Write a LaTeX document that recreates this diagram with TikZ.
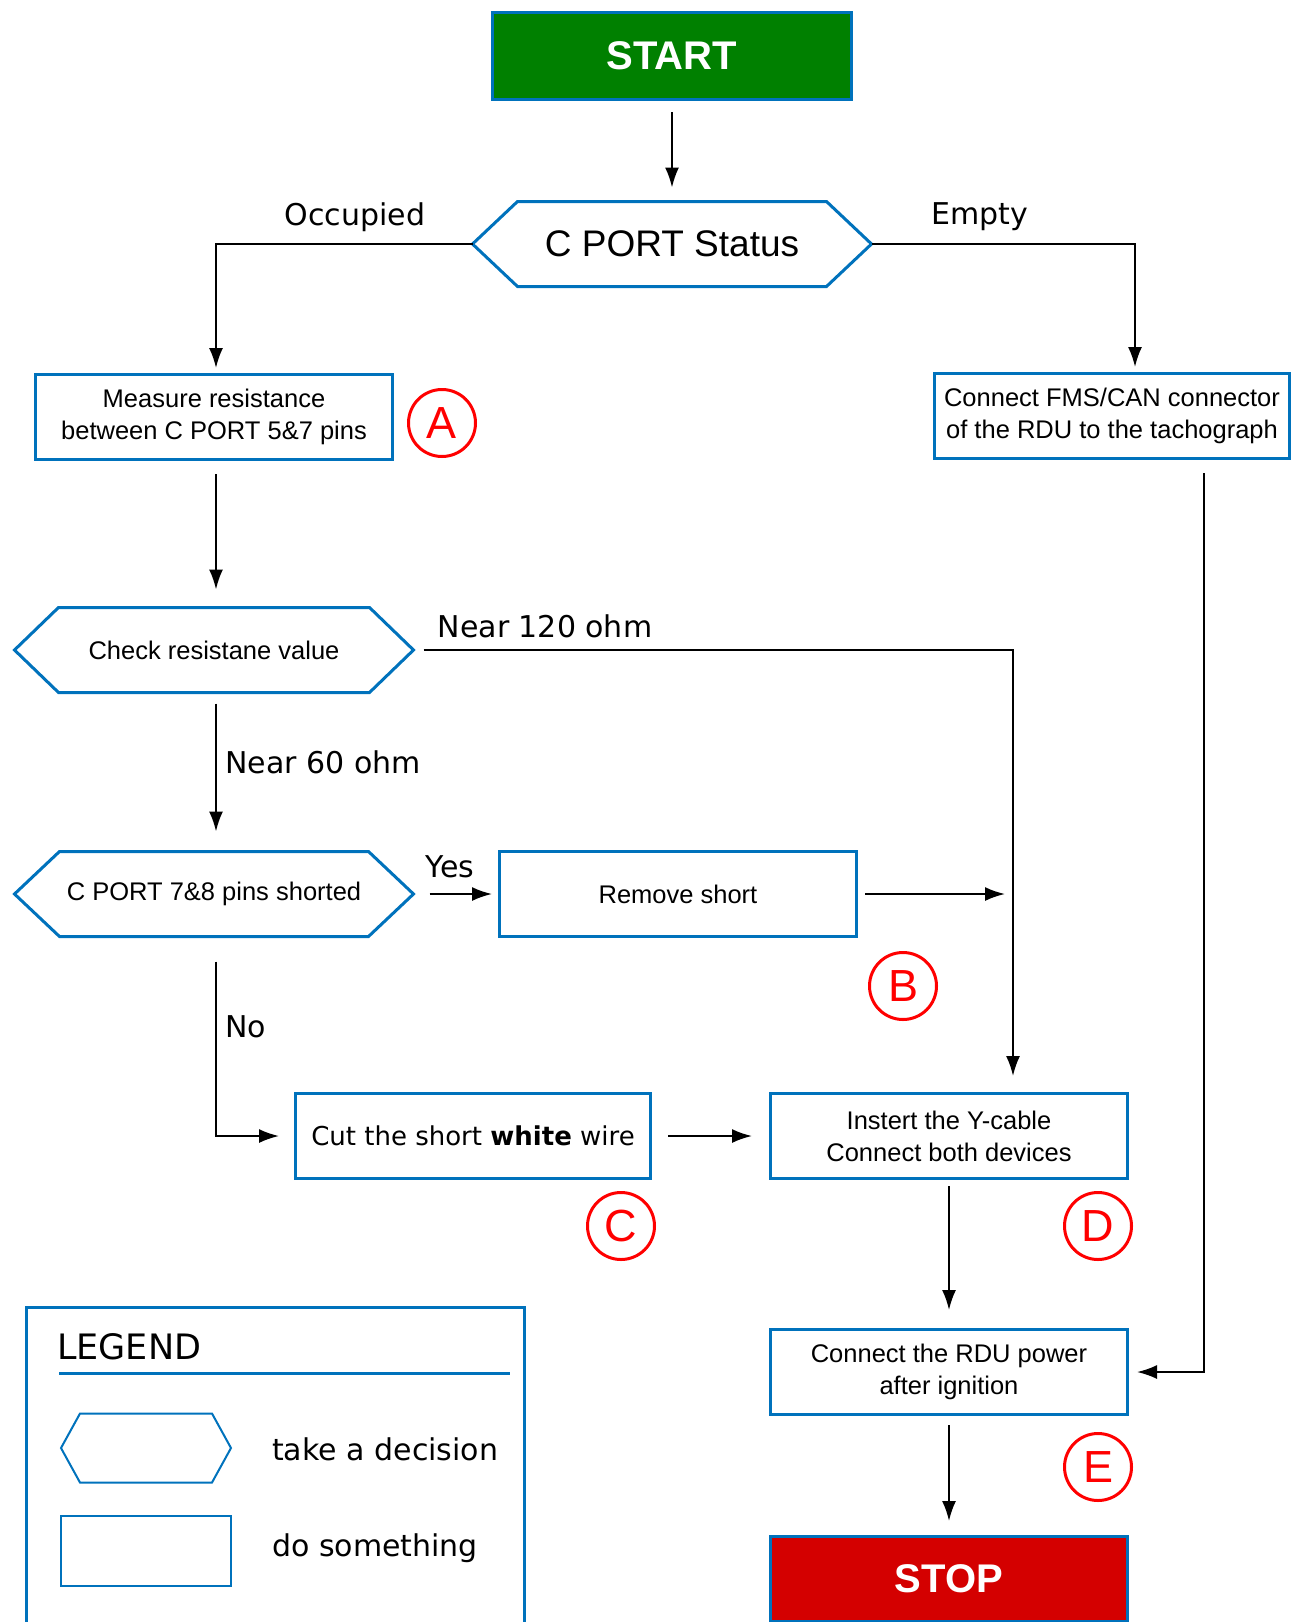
\documentclass[tikz,border=0pt]{standalone}
\usepackage{fontspec}
\setmainfont{Liberation Sans}
\newfontfamily\tagfont{DejaVu Sans}
\usetikzlibrary{arrows.meta}

\definecolor{portblue}{RGB}{0,114,188}
\definecolor{startgreen}{RGB}{0,128,0}
\definecolor{stopred}{RGB}{212,0,0}

% hexagon outline round a (borderless) node: [line width]{node}{inset}
\newcommand\hexframe[3][3pt]{%
  \draw[portblue, line width=#1, line join=miter]
    (#2.west) -- ([xshift=#3]#2.north west) -- ([xshift=-#3]#2.north east)
    -- (#2.east) -- ([xshift=-#3]#2.south east) -- ([xshift=#3]#2.south west) -- cycle;}

\tikzset{
  stepbox/.style={draw=portblue, line width=3pt, fill=white, minimum width=357pt,
    minimum height=85pt, align=center, font=\fontsize{25.5}{32}\selectfont},
  terminal/.style={stepbox, text=white, font=\fontsize{40}{48}\selectfont\bfseries},
  decision/.style={minimum width=399pt, minimum height=85pt, outer sep=0pt,
    font=\fontsize{25.5}{32}\selectfont},
  marker/.style={circle, draw=red, text=red, line width=3pt, minimum size=67pt,
    inner sep=0pt, font=\fontsize{45}{48}\selectfont},
  branch/.style={font=\tagfont\fontsize{30}{36}\selectfont},
  flow/.style={->, line width=2pt}
}

\begin{document}
\begin{tikzpicture}[x=1pt, y=-1pt, >={Latex[length=20pt,width=14pt]}]
\clip (0,0) rectangle (1293,1622);

% boxes
\node[terminal, fill=startgreen, minimum width=359pt, minimum height=87pt] (start) at (672,56) {START};
\node[decision, font=\fontsize{37}{44}\selectfont] (status) at (672,244) {C PORT Status};
\hexframe{status}{45pt}

\node[stepbox] (measure) at (214,417) {Measure resistance\\between C PORT 5\&7 pins};
\node[stepbox, minimum width=355pt] (fms) at (1112,416) {Connect FMS/CAN connector\\of the RDU to the tachograph};

\node[decision] (check) at (214,650) {Check resistane value};
\hexframe{check}{44pt}
\node[decision] (shorted) at (214,894) {C PORT 7\&8 pins shorted};
\hexframe{shorted}{45pt}

\node[stepbox] (remove) at (678,894) {Remove short};
\node[stepbox, minimum width=355pt, font=\tagfont\fontsize{26}{32}\selectfont] (cut) at (473,1136) {Cut the short \textbf{white} wire};
\node[stepbox] (ycable) at (949,1136) {Instert the Y-cable\\Connect both devices};
\node[stepbox] (power) at (949,1372) {Connect the RDU power\\after ignition};
\node[terminal, fill=stopred] (stop) at (949,1579) {STOP};

% step markers
\node[marker] (markA) at (442,423) {A};
\node[marker] (markB) at (903,986) {B};
\node[marker] (markC) at (621,1226) {C};
\node[marker] (markD) at (1098,1226) {D};
\node[marker] (markE) at (1098,1467) {E};

% connectors
\coordinate (c120) at (1013,650);
\draw[flow, shorten <=11pt, shorten >=14pt] (start) -- (status);
\draw[flow, shorten >=5pt] (status.west) -| ([xshift=2pt]measure.north);
\draw[flow, shorten >=5pt] (status.east) -| ([xshift=23pt]fms.north);
\draw[flow, shorten <=13pt, shorten >=18pt] ([xshift=2pt]measure.south) -- ([xshift=2pt]check.north);
\draw[flow, shorten <=10pt, shorten >=16pt] (check.east) -- (c120) -- (c120 |- ycable.north);
\draw[flow, shorten <=11pt, shorten >=20pt] ([xshift=2pt]check.south) -- ([xshift=2pt]shorted.north);
\draw[flow, shorten <=16pt, shorten >=6pt] (shorted) -- (remove);
\draw[flow, shorten <=7pt, shorten >=8pt] (remove.east) -- (remove.east -| c120);
\draw[flow, shorten <=25pt, shorten >=15pt] ([xshift=2pt]shorted.south) |- (cut.west);
\draw[flow, shorten <=16pt, shorten >=17pt] (cut) -- (ycable);
\draw[flow, shorten <=6pt, shorten >=18pt] (ycable) -- (power);
\draw[flow, shorten <=13pt, shorten >=8pt] ([xshift=92pt]fms.south) |- (power.east);
\draw[flow, shorten <=9pt, shorten >=14pt] (power) -- (stop);

% branch labels
\node[branch] (occupied) at (355,217) {Occupied};
\node[branch] (empty) at (980,217) {Empty};
\node[branch] (near120) at (545,626) {Near 120 ohm};
\node[branch, anchor=west] (near60) at (222,762) {Near 60 ohm};
\node[branch] (yes) at (450,867) {Yes};
\node[branch, anchor=west] (no) at (222,1027) {No};

% legend
\node[draw=portblue, line width=3pt, anchor=north west, minimum width=498pt, minimum height=400pt] (legend) at (25,1306) {};
\node[branch, font=\tagfont\fontsize{35}{40}\selectfont, anchor=west, inner sep=0pt] (legendtitle) at (57,1347) {LEGEND};
\draw[portblue, line width=3pt] (59,1373) -- (510,1373);
\node[minimum width=170pt, minimum height=69pt, outer sep=0pt] (keyhex) at (146,1448) {};
\hexframe[2pt]{keyhex}{19pt}
\node[branch, anchor=west, inner sep=0pt] (keyhextext) at (272,1449) {take a decision};
\node[draw=portblue, line width=2.5pt, minimum width=170pt, minimum height=70pt] (keybox) at (146,1551) {};
\node[branch, anchor=west, inner sep=0pt] (keyboxtext) at (272,1548) {do something};

\end{tikzpicture}
\end{document}
